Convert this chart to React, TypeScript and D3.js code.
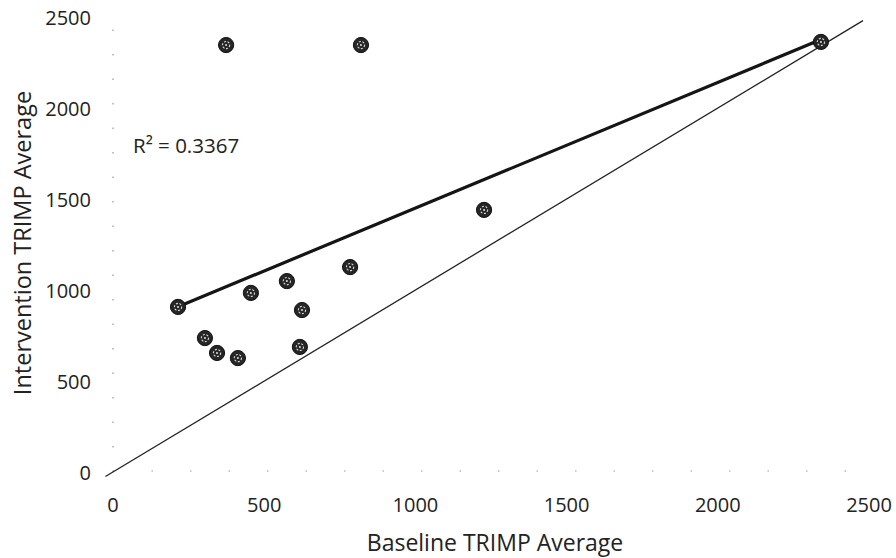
import React from "react";
import * as d3 from "d3";

const baselineX = [215, 304, 344, 413, 456, 575, 625, 618, 784, 1227, 374, 820, 2341];
const interventionY = [907, 736, 654, 626, 984, 1049, 890, 687, 1126, 1440, 2346, 2346, 2363];
const xTicks = [0, 500, 1000, 1500, 2000, 2500];
const yTicks = [0, 500, 1000, 1500, 2000, 2500];
const identityRange = [-25, 2480];
const r2Label = "R\u00B2 = 0.3367";
const xTitle = "Baseline TRIMP Average";
const yTitle = "Intervention TRIMP Average";

const W = 896;
const H = 558;
const FONT = "'Open Sans', sans-serif";

export default function App() {
  const x = d3.scaleLinear().domain([0, 2500]).range([113, 869]);
  const y = d3.scaleLinear().domain([0, 2500]).range([472, 17]);

  const pts = baselineX.map((v, i) => ({ x: v, y: interventionY[i] }));
  const mx = d3.mean(pts, (d) => d.x) as number;
  const my = d3.mean(pts, (d) => d.y) as number;
  const sxy = d3.sum(pts, (d) => (d.x - mx) * (d.y - my));
  const sxx = d3.sum(pts, (d) => (d.x - mx) * (d.x - mx));
  const slope = sxy / sxx;
  const intercept = my - slope * mx;
  const [minX, maxX] = d3.extent(baselineX) as [number, number];

  const line = d3
    .line<[number, number]>()
    .x((d) => x(d[0]))
    .y((d) => y(d[1]));

  const trend: [number, number][] = [
    [minX, intercept + slope * minX],
    [maxX, intercept + slope * maxX],
  ];
  const identity: [number, number][] = identityRange.map((v) => [v, v]);

  return (
    <svg
      width={W}
      height={H}
      style={{ position: "absolute", left: 0, top: 0, background: "#fff" }}
      fontFamily={FONT}
    >
      {/* faint dotted axes */}
      <line x1={x(0)} x2={x(2500)} y1={y(0) - 1} y2={y(0) - 1} stroke="#999" strokeWidth={1.2} strokeDasharray="1.5 37" />
      <line x1={x(0)} x2={x(0)} y1={y(0)} y2={y(2500)} stroke="#999" strokeWidth={1.2} strokeDasharray="1.5 23" />

      {/* identity line */}
      <path d={line(identity) || ""} fill="none" stroke="#222" strokeWidth={1.3} />
      {/* trend line */}
      <path d={line(trend) || ""} fill="none" stroke="#151515" strokeWidth={3.2} />

      {/* points */}
      {pts.map((d, i) => (
        <g key={i} transform={`translate(${x(d.x)},${y(d.y)})`}>
          <circle r={7.6} fill="#262626" stroke="#111" strokeWidth={1} />
          <circle r={3.6} fill="none" stroke="#d8d8d8" strokeWidth={1.1} strokeDasharray="2 1.6" />
          <circle r={1} fill="#e0e0e0" />
        </g>
      ))}

      {/* x tick labels */}
      {xTicks.map((t) => (
        <text key={t} x={x(t)} y={512} textAnchor="middle" fontSize={20} fill="#222">
          {t}
        </text>
      ))}
      {/* y tick labels */}
      {yTicks.map((t) => (
        <text key={t} x={91} y={y(t) + 7.5} textAnchor="end" fontSize={20} fill="#222">
          {t}
        </text>
      ))}

      <text x={133} y={153} fontSize={20.5} fill="#222">
        {r2Label}
      </text>

      <text x={495} y={551} textAnchor="middle" fontSize={23} fill="#222">
        {xTitle}
      </text>
      <text
        transform="translate(31,243) rotate(-90)"
        textAnchor="middle"
        fontSize={23.5}
        fill="#222"
      >
        {yTitle}
      </text>
    </svg>
  );
}
